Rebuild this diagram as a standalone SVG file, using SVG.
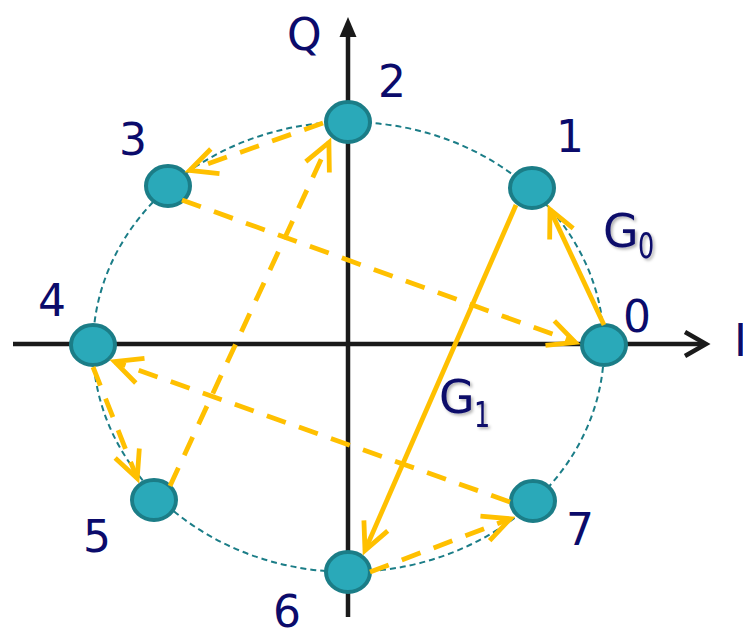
<svg xmlns="http://www.w3.org/2000/svg" width="743" height="630" viewBox="0 0 743 630">
<defs>
<style>
.node{fill:#2aa9b9;stroke:#1b7d87;stroke-width:4}
.lbl{font-family:"DejaVu Sans","Liberation Sans",sans-serif;font-size:44px;fill:#0b0b6b}
.glbl{font-family:"DejaVu Sans","Liberation Sans",sans-serif;font-size:46px;fill:#0b0b6b}
.sub{font-family:"DejaVu Sans","Liberation Sans",sans-serif;font-size:30px;fill:#0b0b6b}
.arr{stroke:#ffc000;stroke-width:4.8;fill:none;marker-end:url(#chev)}
.dash{stroke-dasharray:20 14}
.axis{stroke:#1a1a1a;stroke-width:4.5;fill:none}
</style>
<marker id="chev" markerUnits="userSpaceOnUse" orient="auto" refX="0" refY="0" markerWidth="60" markerHeight="60" viewBox="-40 -30 60 60" overflow="visible">
<path d="M-27,-13 L0,0 L-27,13" fill="none" stroke="#ffc000" stroke-width="4.8" stroke-linejoin="miter"/>
</marker>
<filter id="sh" x="-20%" y="-20%" width="150%" height="150%">
<feDropShadow dx="2" dy="2" stdDeviation="1.5" flood-color="#000" flood-opacity="0.3"/>
</filter>
</defs>
<rect width="743" height="630" fill="#fff"/>
<ellipse cx="348.5" cy="347" rx="255.5" ry="225" fill="none" stroke="#1b7d87" stroke-width="2" stroke-dasharray="6 4"/>
<g id="axes">
<line class="axis" x1="348" y1="34" x2="348" y2="617"/>
<path d="M348,17 L356.5,37 L339.5,37 Z" fill="#1a1a1a"/>
<line class="axis" x1="13" y1="344" x2="705" y2="344"/>
<path class="axis" d="M685,332 L706,344 L685,356" stroke-linejoin="miter"/>
<text class="lbl" x="287" y="50">Q</text>
<text class="lbl" x="734" y="356">I</text>
</g>
<g id="node0"><ellipse class="node" cx="604" cy="345" rx="22" ry="20"/><text class="lbl" x="623" y="332">0</text></g>
<g id="node1"><ellipse class="node" cx="532" cy="188" rx="22" ry="20"/><text class="lbl" x="556" y="152">1</text></g>
<g id="node2"><ellipse class="node" cx="348" cy="122" rx="22" ry="20"/><text class="lbl" x="378" y="97">2</text></g>
<g id="node3"><ellipse class="node" cx="168" cy="186" rx="22" ry="20"/><text class="lbl" x="119" y="155">3</text></g>
<g id="node4"><ellipse class="node" cx="93" cy="345" rx="22" ry="20"/><text class="lbl" x="38" y="316">4</text></g>
<g id="node5"><ellipse class="node" cx="154" cy="500" rx="22" ry="20"/><text class="lbl" x="83" y="552">5</text></g>
<g id="node6"><ellipse class="node" cx="348" cy="572" rx="22" ry="20"/><text class="lbl" x="273" y="627">6</text></g>
<g id="node7"><ellipse class="node" cx="533" cy="501" rx="22" ry="20"/><text class="lbl" x="566" y="545">7</text></g>
<g id="connectors">
<line class="arr" x1="604" y1="325" x2="550" y2="209.5"/>
<line class="arr" x1="516" y1="205" x2="365" y2="550.4"/>
<line class="arr dash" x1="323" y1="123" x2="189.7" y2="170.3"/>
<line class="arr dash" x1="182" y1="200" x2="575.3" y2="342.3"/>
<line class="arr dash" x1="170" y1="486" x2="328.9" y2="142.5"/>
<line class="arr dash" x1="93" y1="367" x2="137.2" y2="478.4"/>
<line class="arr dash" x1="510" y1="502" x2="114.7" y2="361.7"/>
<line class="arr dash" x1="370" y1="572" x2="510.3" y2="518.8"/>
</g>
<g id="labels" filter="url(#sh)">
<text class="glbl" x="603" y="247">G</text>
<text class="sub" x="638" y="258" transform="translate(638 258) scale(0.85 1.2) translate(-638 -258)">0</text>
<text class="glbl" x="439" y="413">G</text>
<text class="sub" x="474" y="427" transform="translate(474 427) scale(0.85 1.2) translate(-474 -427)">1</text>
</g>
</svg>
